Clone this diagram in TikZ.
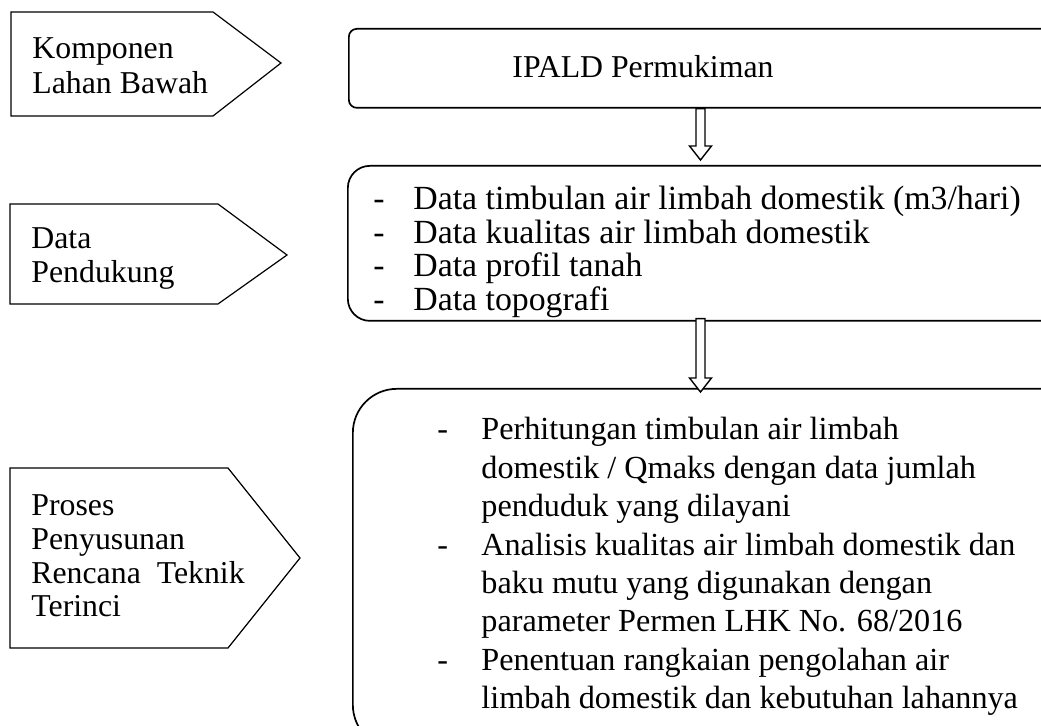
\documentclass[tikz,border=0pt]{standalone}
\usepackage{fontspec}
\setmainfont{Liberation Serif}
\usetikzlibrary{calc}
\tikzset{
  tag/.style={draw=black, line width=0.6pt, fill=white},
  panel/.style={draw=black, line width=0.85pt, fill=white, anchor=north west, inner sep=0pt},
  txt/.style={anchor=base west, inner sep=0pt, font=\fontsize{15.9}{17.5}\selectfont},
  hollow/.style={draw=black, line width=0.7pt, fill=white, line join=miter}
}
\newcommand{\dashitem}[1]{\makebox[#1][l]{-}}
\begin{document}
\begin{tikzpicture}[x=0.5pt,y=-0.5pt]
\useasboundingbox (0,0) rectangle (1041,726);
\clip (0,0) rectangle (1041,726);

% left-hand stage tags
\draw[tag] (11,12) -- (213,12) -- (281,63) -- (213,116) -- (11,116) -- cycle;
\draw[tag] (10,204) -- (218,204) -- (287,255) -- (218,304) -- (10,304) -- cycle;
\draw[tag] (10,468) -- (228,468) -- (300,558) -- (228,648) -- (10,648) -- cycle;

\node[txt] (t1) at (32,59) {\begin{tabular}[t]{@{}l@{}}Komponen\\Lahan Bawah\end{tabular}};
\node[txt, font=\fontsize{15.9}{17}\selectfont] (t2) at (31,249) {\begin{tabular}[t]{@{}l@{}}Data\\Pendukung\end{tabular}};
\node[txt, font=\fontsize{15.9}{16.8}\selectfont] (t3) at (31,516) {\begin{tabular}[t]{@{}l@{}}Proses\\Penyusunan\\Rencana\ \ Teknik\\Terinci\end{tabular}};

% right-hand panels
\node[panel, rounded corners=4pt, minimum width=370pt, minimum height=39.5pt] (ipald) at (348,28) {};
\node[panel, rounded corners=11pt, minimum width=370pt, minimum height=77.5pt] (data) at (347,165) {};
\node[panel, rounded corners=22pt, minimum width=370pt, minimum height=180pt] (proc) at (352,388) {};

\node[txt, anchor=base] (ipaldtxt) at (643,78) {IPALD Permukiman};

\node[txt, font=\fontsize{16.9}{16.25}\selectfont] (datatxt) at (373,210) {\begin{tabular}[t]{@{}l@{}}
\dashitem{20pt}Data timbulan air limbah domestik (m3/hari)\\
\dashitem{20pt}Data kualitas air limbah domestik\\
\dashitem{20pt}Data profil tanah\\
\dashitem{20pt}Data topografi
\end{tabular}};

\node[txt, font=\fontsize{16.1}{19.2}\selectfont] (proctxt) at (437,440) {\begin{tabular}[t]{@{}l@{}}
\dashitem{22pt}Perhitungan timbulan air limbah\\
\hspace*{22pt}domestik / Qmaks dengan data jumlah\\
\hspace*{22pt}penduduk yang dilayani\\
\dashitem{22pt}Analisis kualitas air limbah domestik dan\\
\hspace*{22pt}baku mutu yang digunakan dengan\\
\hspace*{22pt}parameter Permen LHK No. 68/2016\\
\dashitem{22pt}Penentuan rangkaian pengolahan air\\
\hspace*{22pt}limbah domestik dan kebutuhan lahannya
\end{tabular}};

% hollow block arrows between the panels
\coordinate (ax) at (700.5,0);
\coordinate (a1top) at (ipald.south -| ax);
\coordinate (a1tip) at ($(data.north -| ax)+(0,-5)$);
\coordinate (a2top) at ($(data.south -| ax)+(0,-3)$);
\coordinate (a2tip) at ($(proc.north -| ax)+(0,4)$);
\draw[hollow] let \p1=(a1top), \p2=(a1tip) in
  (\x1-2.25pt,\y1) -- (\x1-2.25pt,\y2+7pt) -- (\x1-5.5pt,\y2+7pt) -- (\x2,\y2)
  -- (\x1+5.5pt,\y2+7pt) -- (\x1+2.25pt,\y2+7pt) -- (\x1+2.25pt,\y1) -- cycle;
\draw[hollow] let \p1=(a2top), \p2=(a2tip) in
  (\x1-2.25pt,\y1) -- (\x1-2.25pt,\y2+7pt) -- (\x1-5.5pt,\y2+7pt) -- (\x2,\y2)
  -- (\x1+5.5pt,\y2+7pt) -- (\x1+2.25pt,\y2+7pt) -- (\x1+2.25pt,\y1) -- cycle;
\end{tikzpicture}
\end{document}
